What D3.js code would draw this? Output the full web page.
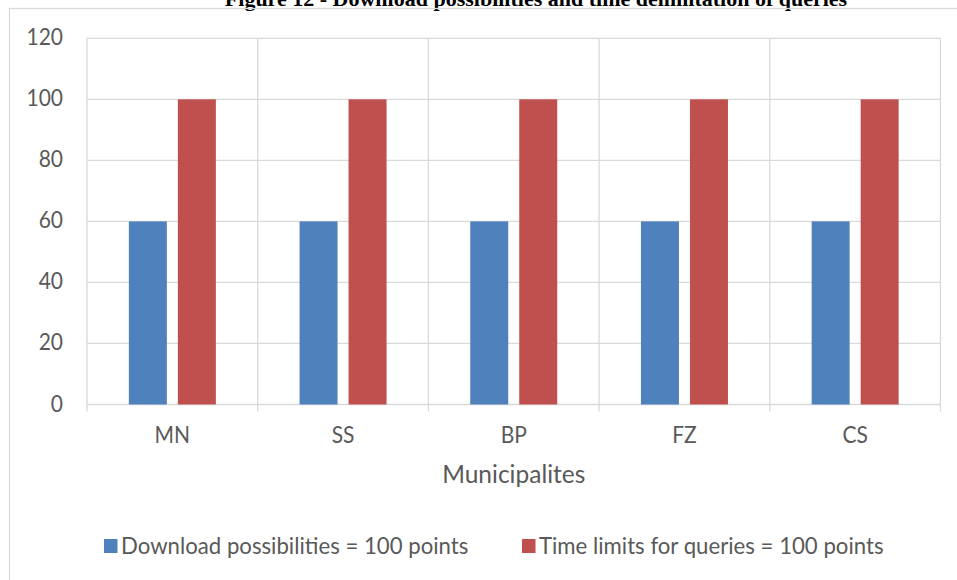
<!DOCTYPE html>
<html>
<head>
<meta charset="utf-8">
<script src="https://cdn.jsdelivr.net/npm/d3@7"></script>
<style>
  html, body { margin: 0; padding: 0; background: #ffffff; }
  svg { display: block; }
  text { font-family: Lato, "Noto Sans", sans-serif; fill: #595959; }
</style>
</head>
<body>
<svg id="chart" width="957" height="580"></svg>
<script>
// Chart data
const categories = ["MN", "SS", "BP", "FZ", "CS"];
const seriesNames = ["Download possibilities = 100 points", "Time limits for queries = 100 points"];
const downloadValues = [60, 60, 60, 60, 60];
const timeLimitValues = [100, 100, 100, 100, 100];
const yTicks = [0, 20, 40, 60, 80, 100, 120];
const figureTitle = "Figure 12 - Download possibilities and time delimitation of queries";
const xAxisTitle = "Municipalites";

const colors = ["#4f81bd", "#c0504d"];
const gridColor = "#d9d9d9";

const svg = d3.select("#chart");

// Figure caption (runs off the top edge)
svg.append("text")
  .attr("x", 536).attr("y", 5.5)
  .attr("text-anchor", "middle")
  .style("font-family", "'Liberation Serif', 'Times New Roman', serif")
  .style("font-weight", "bold")
  .style("font-size", "22px")
  .style("fill", "#000")
  .text(figureTitle);

// Chart frame
svg.append("rect")
  .attr("x", 9.5).attr("y", 8.5)
  .attr("width", 960).attr("height", 600)
  .attr("fill", "none")
  .attr("stroke", gridColor)
  .attr("stroke-width", 1.3);

const plot = { left: 87, right: 940.5, top: 38.3, bottom: 404.5 };

const x = d3.scaleBand()
  .domain(categories)
  .range([plot.left, plot.right])
  .padding(0);

const xInner = d3.scaleBand()
  .domain([0, 1])
  .range([0, x.bandwidth()])
  .paddingInner(0.2245)
  .paddingOuter(0.854);

const y = d3.scaleLinear()
  .domain([0, 120])
  .range([plot.bottom, plot.top]);

// Horizontal gridlines (including the baseline)
svg.append("g")
  .selectAll("line")
  .data(yTicks)
  .join("line")
  .attr("x1", plot.left).attr("x2", plot.right)
  .attr("y1", d => y(d)).attr("y2", d => y(d))
  .attr("stroke", gridColor)
  .attr("stroke-width", 1.3);

// Vertical gridlines at category boundaries, running past the baseline as ticks
const boundaries = categories.map(c => x(c)).concat([x(categories[categories.length - 1]) + x.bandwidth()]);
svg.append("g")
  .selectAll("line")
  .data(boundaries)
  .join("line")
  .attr("x1", d => d).attr("x2", d => d)
  .attr("y1", plot.top).attr("y2", plot.bottom + 7)
  .attr("stroke", gridColor)
  .attr("stroke-width", 1.3);

// Helper: text with an optional vertical stretch
function stretchedText(parent, tx, ty, str, size, anchor, sy) {
  const g = parent.append("g")
    .attr("transform", `translate(${tx},${ty}) scale(1,${sy})`);
  return g.append("text")
    .attr("text-anchor", anchor)
    .style("font-size", size + "px")
    .text(str);
}

// Y tick labels
const yLabels = svg.append("g");
yTicks.forEach(t => {
  stretchedText(yLabels, 63, y(t) + 7, String(t), 21, "end", 1.08);
});

// Bars
const seriesValues = [downloadValues, timeLimitValues];
const groups = svg.append("g")
  .selectAll("g")
  .data(categories)
  .join("g")
  .attr("transform", d => `translate(${x(d)},0)`);

groups.selectAll("rect")
  .data((d, i) => seriesValues.map((vals, s) => ({ s, v: vals[i] })))
  .join("rect")
  .attr("x", d => xInner(d.s))
  .attr("width", xInner.bandwidth())
  .attr("y", d => y(d.v))
  .attr("height", d => y(0) - y(d.v))
  .attr("fill", d => colors[d.s]);

// Category labels
const xLabels = svg.append("g");
categories.forEach(c => {
  stretchedText(xLabels, x(c) + x.bandwidth() / 2, 443, c, 21, "middle", 1.08);
});

// X axis title
stretchedText(svg, (plot.left + plot.right) / 2, 483, xAxisTitle, 24.5, "middle", 1.0);

// Legend
const legendItems = [
  { x: 104, name: seriesNames[0], color: colors[0] },
  { x: 522, name: seriesNames[1], color: colors[1] }
];
const legend = svg.append("g");
legendItems.forEach(item => {
  legend.append("rect")
    .attr("x", item.x).attr("y", 539)
    .attr("width", 13.5).attr("height", 14)
    .attr("fill", item.color);
  stretchedText(legend, item.x + 17, 554, item.name, 22.2, "start", 1.0);
});
</script>
</body>
</html>
